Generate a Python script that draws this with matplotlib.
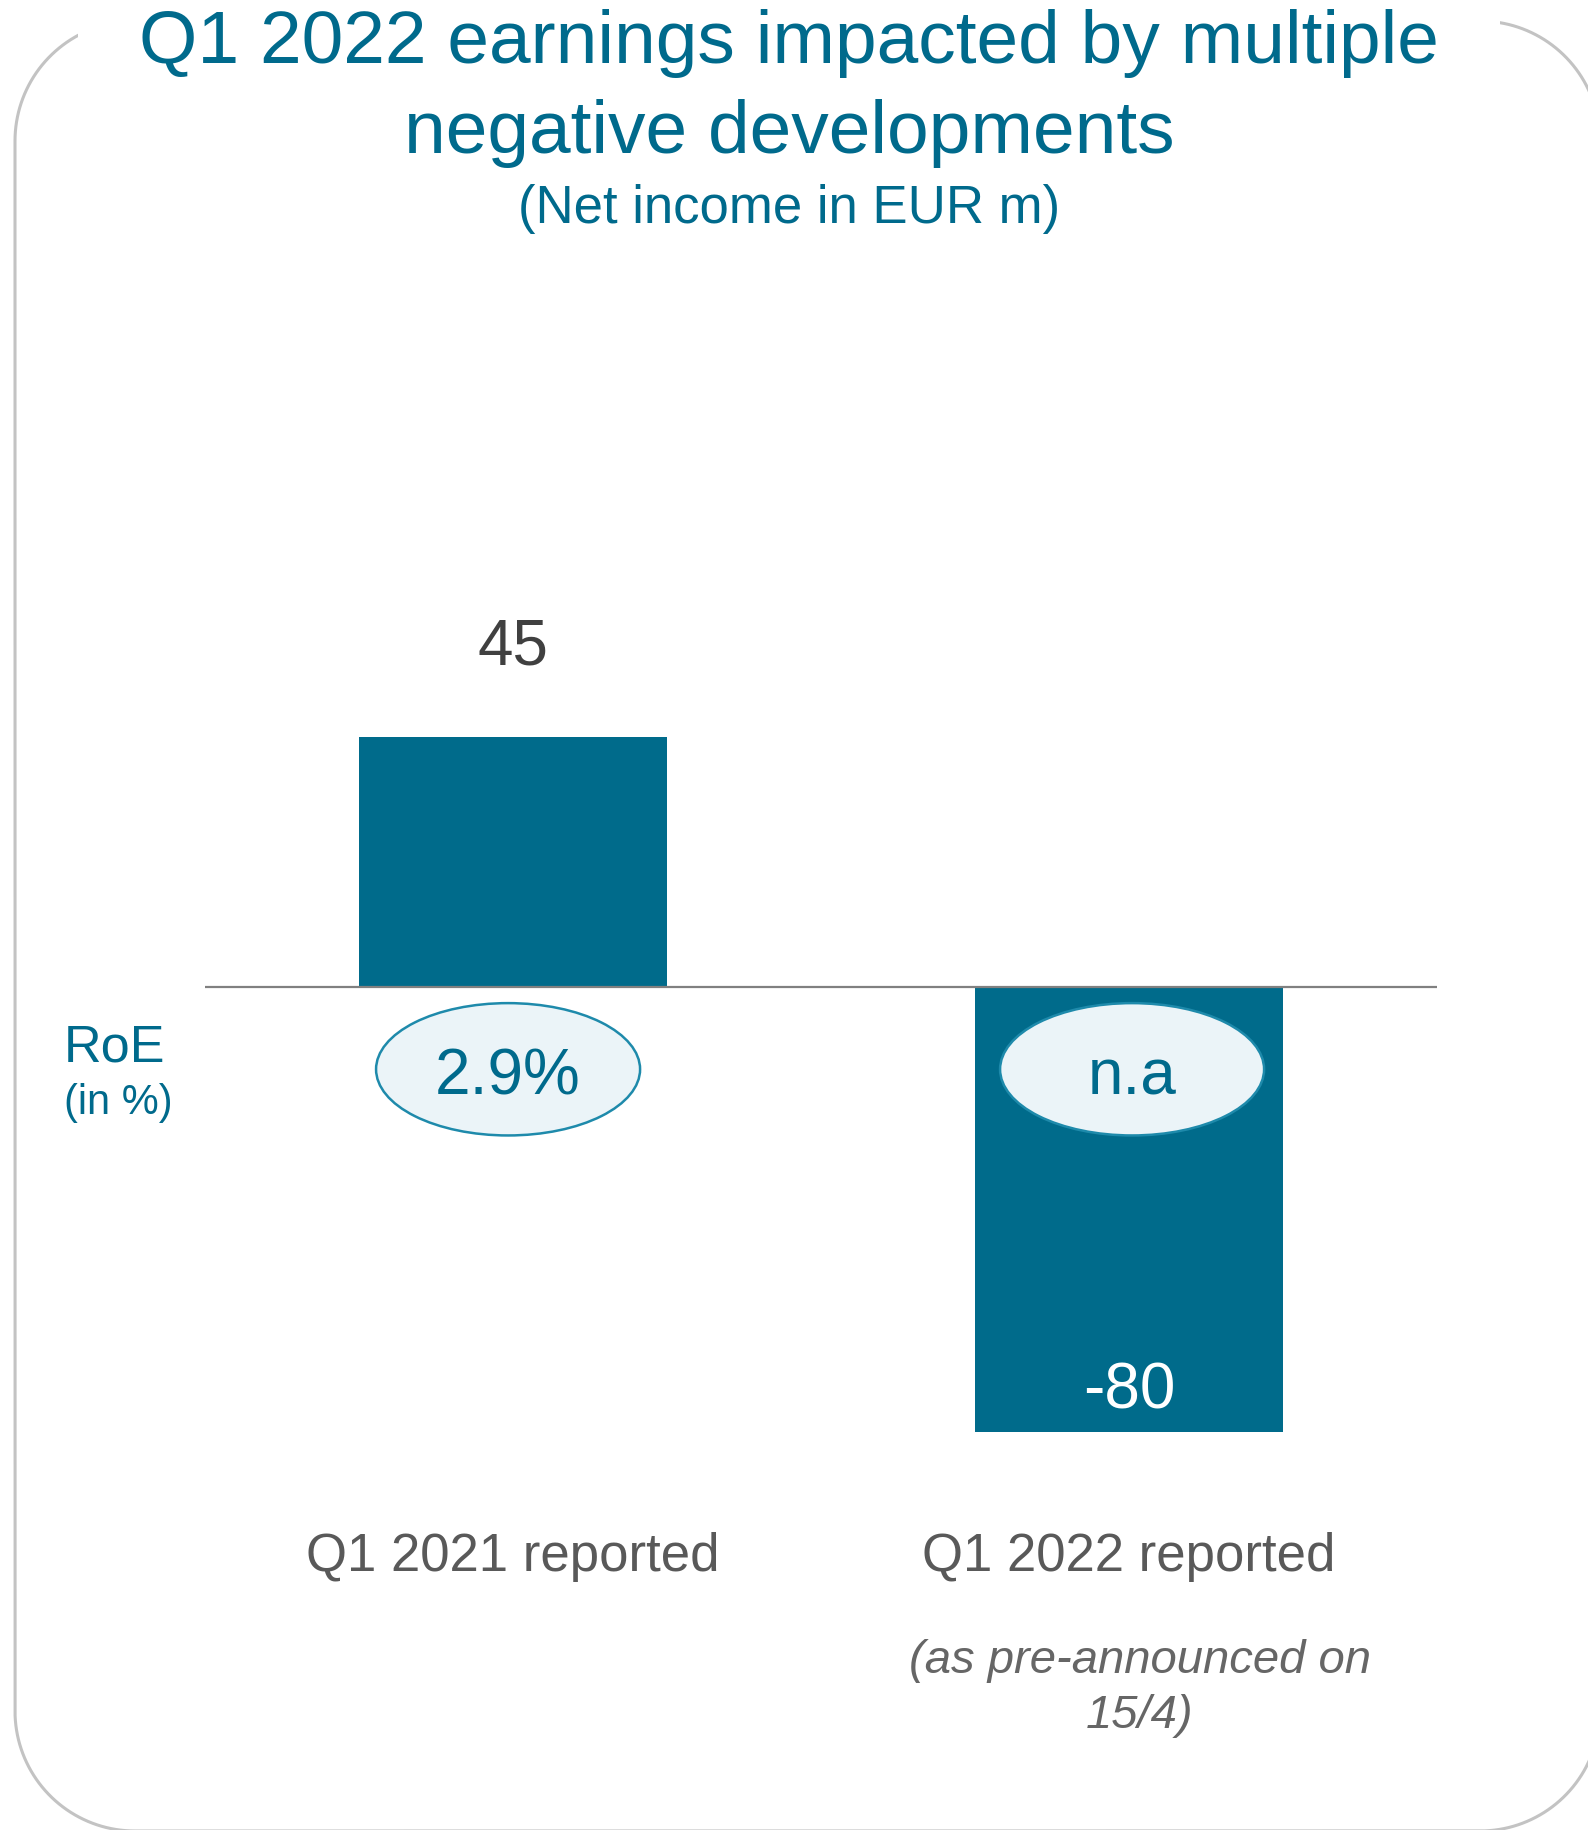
import matplotlib
matplotlib.use("Agg")
import numpy as np
import matplotlib.pyplot as plt
from matplotlib import transforms
from matplotlib.patches import Rectangle, Ellipse

plt.rcParams["font.family"] = ["Liberation Sans", "DejaVu Sans"]

# ---- data -------------------------------------------------------------
categories = ["Q1 2021 reported", "Q1 2022 reported"]
net_income = [45, -80]                    # EUR m
value_labels = ["45", "-80"]
roe_labels = ["2.9%", "n.a"]
notes = ["", "(as pre-announced on\n15/4)"]

title_lines = ["Q1 2022 earnings impacted by multiple", "negative developments"]
subtitle = "(Net income in EUR m)"

# ---- styling ----------------------------------------------------------
TEAL = "#006A8C"
BAR = "#006B8B"
W, H = 1588, 1830


def row(y_from_top):
    """Convert a pixel row measured from the top into bottom-up units."""
    return H - y_from_top


def rounded_outline(x0, y0, x1, y1, r, n=40):
    """Sampled outline of a rounded rectangle (bottom-up pixel units)."""
    pts = []
    corners = [((x1 - r, y1 - r), 0, 90), ((x0 + r, y1 - r), 90, 180),
               ((x0 + r, y0 + r), 180, 270), ((x1 - r, y0 + r), 270, 360)]
    for (cx, cy), a0, a1 in corners:
        t = np.radians(np.linspace(a0, a1, n))
        pts.extend(zip(cx + r * np.cos(t), cy + r * np.sin(t)))
    pts.append(pts[0])
    xs, ys = zip(*pts)
    return xs, ys


fig = plt.figure(figsize=(W / 100, H / 100), dpi=100)
fig.patch.set_facecolor("white")

# background layer in pixel units
bg = fig.add_axes([0, 0, 1, 1], zorder=0)
bg.set_xlim(0, W)
bg.set_ylim(0, H)
bg.axis("off")

# rounded frame (extends slightly past the right and bottom edges)
fx, fy = rounded_outline(15, row(1831), 1600, row(21), 120)
bg.plot(fx, fy, color="#C3C3C3", lw=2.2, solid_joinstyle="round", zorder=1)
# title band interrupts the top edge of the frame
bg.add_patch(Rectangle((78, row(46)), 1422, 46, fc="white", ec="none", zorder=3))

# titles
bg.text(789, row(63), title_lines[0], ha="center", va="baseline",
        fontsize=54, color=TEAL, zorder=4)
bg.text(789, row(153), title_lines[1], ha="center", va="baseline",
        fontsize=54, color=TEAL, zorder=4)
bg.text(789, row(223), subtitle, ha="center", va="baseline",
        fontsize=38, color=TEAL, zorder=4)

# RoE row caption
bg.text(64, row(1062), "RoE", ha="left", va="baseline", fontsize=37.5, color=TEAL)
bg.text(64, row(1114), "(in %)", ha="left", va="baseline", fontsize=30, color=TEAL)

# ---- bar chart ----------------------------------------------------------
top_px, bot_px = 431, 1821
left_px, right_px = 205, 1437
ax = fig.add_axes([left_px / W, 1 - bot_px / H,
                   (right_px - left_px) / W, (bot_px - top_px) / H], zorder=1)
ax.patch.set_alpha(0)
ax.set_xlim(-0.5, 1.5)
ax.set_ylim(-150, 100)
ax.axis("off")

x = list(range(len(categories)))
ax.bar(x, net_income, width=0.5, color=BAR, zorder=2)
ax.axhline(0, color="#808080", lw=1.6, zorder=3)

for xi, v, lab in zip(x, net_income, value_labels):
    if v >= 0:
        ax.annotate(lab, (xi, v), xytext=(0, 72), textcoords="offset pixels",
                    ha="center", va="baseline", fontsize=46, color="#404040")
    else:
        ax.annotate(lab, (xi, v), xytext=(0, 23), textcoords="offset pixels",
                    ha="center", va="baseline", fontsize=46, color="white")

# RoE bubbles
roe_y = -14.8
bubble_shift = [-0.008, 0.005]
for xi, dx, lab in zip(x, bubble_shift, roe_labels):
    cx = xi + dx
    ax.add_patch(Ellipse((cx, roe_y), 0.4286, 23.8, fc="#EBF4F8",
                         ec="#1E8AAB", lw=1.8, zorder=4))
    ax.annotate(lab, (cx, roe_y), xytext=(0, -25), textcoords="offset pixels",
                ha="center", va="baseline", fontsize=46, color=TEAL, zorder=5)

# category labels and footnotes, x from the data axis, y in pixel rows
blend = transforms.blended_transform_factory(ax.transData, bg.transData)
for xi, cat, note in zip(x, categories, notes):
    bg.text(xi, row(1571), cat, transform=blend, ha="center", va="baseline",
            fontsize=38, color="#595959")
    if note:
        # baseline of the last line sits on the given row
        bg.annotate(note, (xi, row(1728)), xycoords=blend, xytext=(11, 0),
                    textcoords="offset pixels", ha="center", va="baseline",
                    fontsize=34, style="italic", color="#666666",
                    multialignment="center", linespacing=1.32)

fig.savefig("out.png", dpi=100, facecolor="white")
